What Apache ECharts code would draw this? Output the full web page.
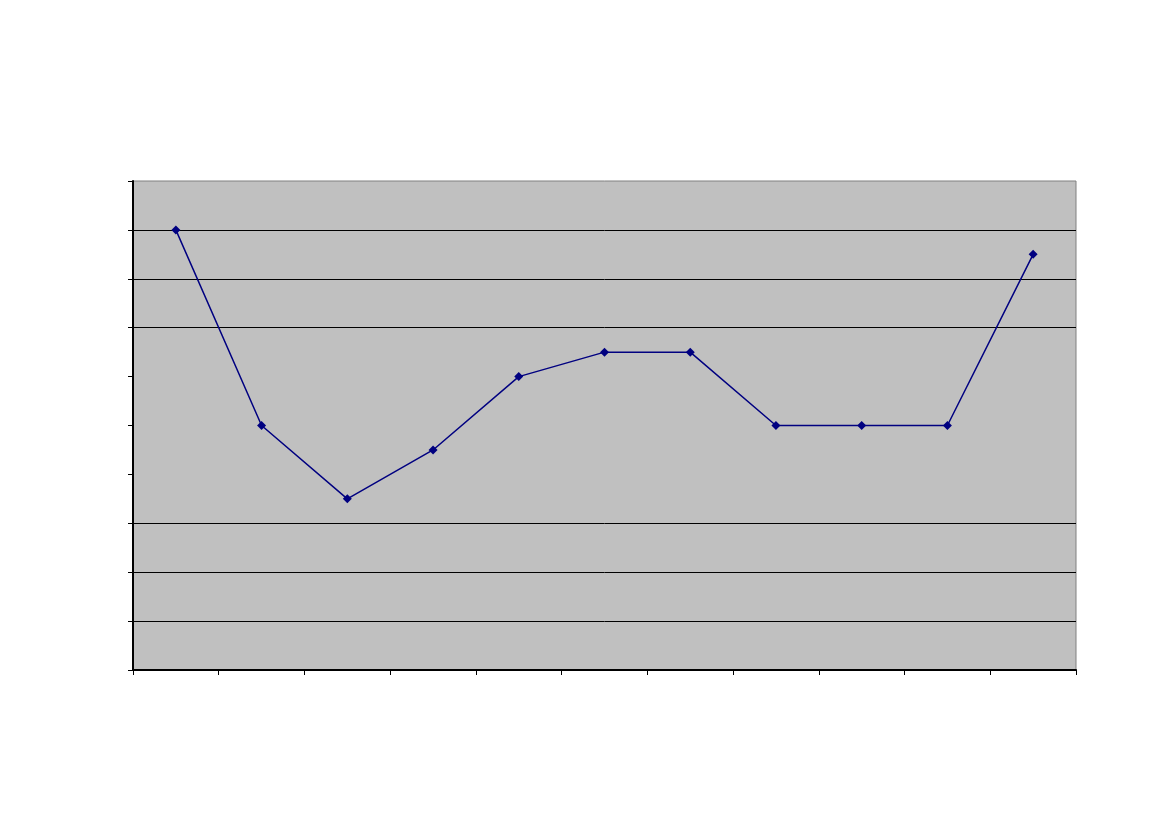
<!DOCTYPE html>
<html>
<head>
<meta charset="utf-8">
<script src="https://cdn.jsdelivr.net/npm/echarts@6/dist/echarts.min.js"></script>
<style>html,body{margin:0;padding:0;background:#fff;}#c{width:1169px;height:827px;}</style>
</head>
<body>
<div id="c"></div>
<script>
const categories = ['1','2','3','4','5','6','7','8','9','10','11'];
const values = [9, 5, 3.5, 4.5, 6, 6.5, 6.5, 5, 5, 5, 8.5];
const gridLineValues = [9, 8, 7, 3, 2, 1];

const chart = echarts.init(document.getElementById('c'));
chart.setOption({
  animation: false,
  backgroundColor: '#ffffff',
  grid: {left: 133, right: 93, top: 181, bottom: 157, show: true, backgroundColor: '#c0c0c0', borderColor: '#808080', borderWidth: 1},
  xAxis: {
    type: 'category', data: categories, boundaryGap: true,
    axisLine: {lineStyle: {color: '#000', width: 2}},
    axisTick: {show: true, inside: false, length: 5, lineStyle: {color: '#000'}},
    axisLabel: {show: false},
    splitLine: {show: false}
  },
  yAxis: {
    type: 'value', min: 0, max: 10, interval: 1,
    axisLine: {show: true, lineStyle: {color: '#000', width: 2}},
    axisTick: {show: true, inside: false, length: 5, lineStyle: {color: '#000'}},
    axisLabel: {show: false},
    splitLine: {show: false}
  },
  series: [{
    type: 'line', data: values,
    lineStyle: {color: '#000080', width: 1.5},
    itemStyle: {color: '#000080'},
    symbol: 'diamond', symbolSize: 9, showSymbol: true,
    markLine: {
      silent: true, symbol: ['none', 'none'], label: {show: false},
      lineStyle: {color: '#000', width: 1, type: 'solid'},
      data: gridLineValues.map(v => ({yAxis: v})),
      z: 1
    },
    z: 3
  }]
});
</script>
</body>
</html>
